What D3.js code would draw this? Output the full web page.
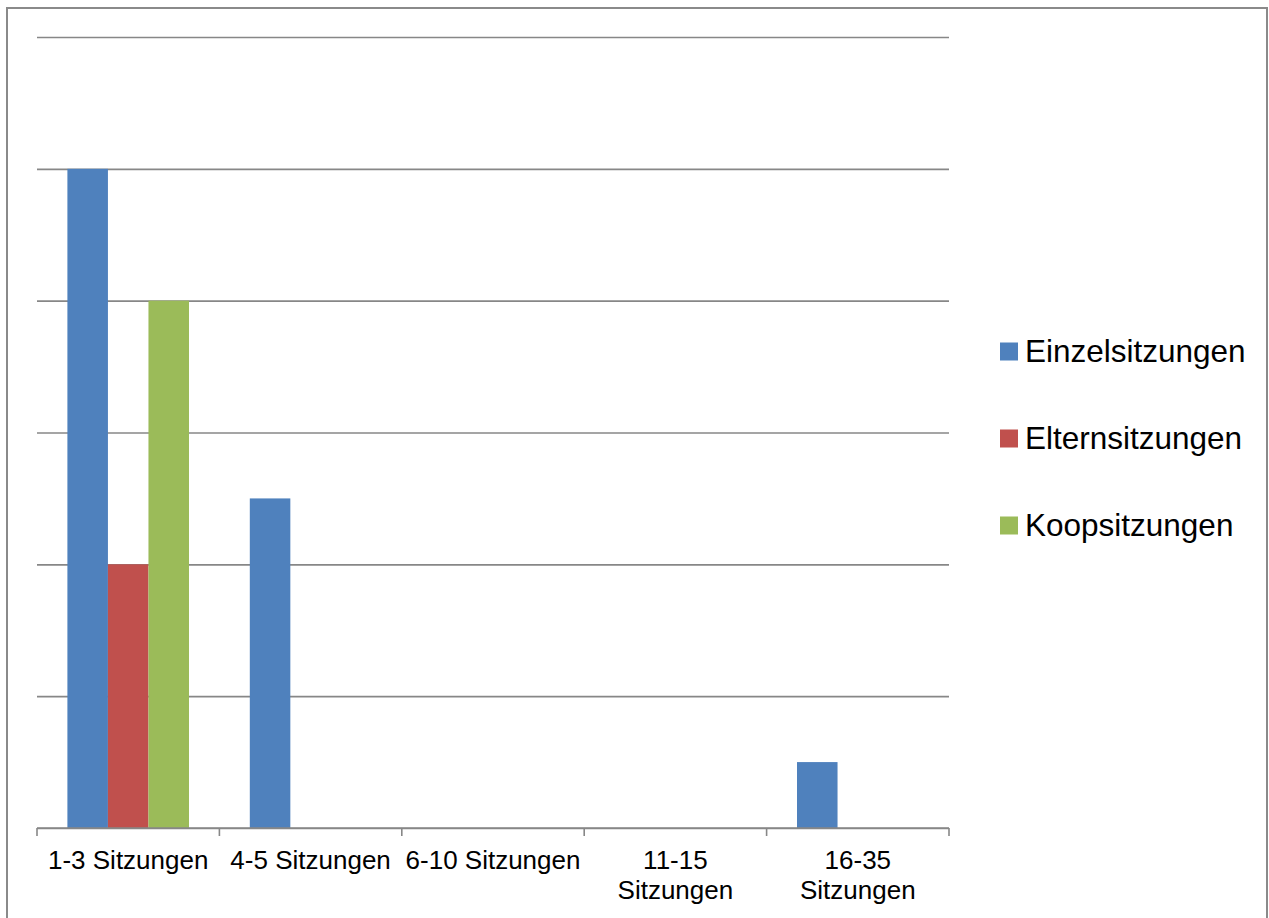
<!DOCTYPE html>
<html>
<head>
<meta charset="utf-8">
<script src="https://cdn.jsdelivr.net/npm/d3@7/dist/d3.min.js"></script>
<style>
  html, body { margin: 0; padding: 0; background: #fff; }
  svg { display: block; font-family: "Liberation Sans", Arial, sans-serif; }
</style>
</head>
<body>
<svg id="chart" width="1269" height="918"></svg>
<script>
// Number of sessions per group, by session type
const categories = ["1-3 Sitzungen", "4-5 Sitzungen", "6-10 Sitzungen", "11-15 Sitzungen", "16-35 Sitzungen"];
const seriesNames = ["Einzelsitzungen", "Elternsitzungen", "Koopsitzungen"];
const einzel = [10, 5, 0, 0, 1];
const eltern = [4, 0, 0, 0, 0];
const koop = [8, 0, 0, 0, 0];
const seriesColors = ["#4F81BD", "#C0504D", "#9BBB59"];
const yTicks = [0, 2, 4, 6, 8, 10, 12];

const seriesValues = [einzel, eltern, koop];
const rows = [];
categories.forEach((c, i) => {
  seriesNames.forEach((s, j) => {
    rows.push({ category: c, series: s, value: seriesValues[j][i], color: seriesColors[j] });
  });
});

const svg = d3.select("#chart");
const plot = { left: 37, right: 949, top: 37, bottom: 828 };

// outer frame
svg.append("rect")
  .attr("x", 7).attr("y", 8)
  .attr("width", 1260).attr("height", 930)
  .attr("fill", "none")
  .attr("stroke", "#8a8a8a")
  .attr("stroke-width", 2);

const x = d3.scaleBand()
  .domain(categories)
  .range([plot.left, plot.right])
  .padding(0);

const xInner = d3.scaleBand()
  .domain(seriesNames)
  .range([0, x.bandwidth()])
  .paddingInner(0)
  .paddingOuter(0.75);

const y = d3.scaleLinear()
  .domain([0, 12])
  .range([plot.bottom, plot.top]);

// horizontal gridlines (no value labels)
const grid = svg.append("g")
  .attr("transform", `translate(${plot.left},0)`)
  .call(d3.axisLeft(y).tickValues(yTicks).tickSize(-(plot.right - plot.left)).tickFormat(""));
grid.select(".domain").remove();
grid.selectAll(".tick line")
  .attr("stroke", "#878787")
  .attr("stroke-width", 1.6);

// bars
svg.append("g")
  .selectAll("rect")
  .data(rows.filter(d => d.value > 0))
  .join("rect")
  .attr("x", d => x(d.category) + xInner(d.series))
  .attr("y", d => y(d.value))
  .attr("width", xInner.bandwidth())
  .attr("height", d => y(0) - y(d.value))
  .attr("fill", d => d.color);

// category axis: baseline with ticks between categories
const axisG = svg.append("g");
axisG.append("line")
  .attr("x1", plot.left).attr("x2", plot.right)
  .attr("y1", y(0)).attr("y2", y(0))
  .attr("stroke", "#878787").attr("stroke-width", 1.6);
const boundaries = categories.map(c => x(c)).concat([x(categories[categories.length - 1]) + x.bandwidth()]);
axisG.selectAll("line.tick")
  .data(boundaries)
  .join("line")
  .attr("class", "tick")
  .attr("x1", d => d).attr("x2", d => d)
  .attr("y1", y(0)).attr("y2", y(0) + 8)
  .attr("stroke", "#878787").attr("stroke-width", 1.6);

// category labels, wrapped to the category width
const labels = axisG.selectAll("text.cat")
  .data(categories)
  .join("text")
  .attr("class", "cat")
  .attr("x", d => x(d) + x.bandwidth() / 2)
  .attr("y", 869)
  .attr("text-anchor", "middle")
  .attr("font-size", 26)
  .attr("fill", "#000");

labels.each(function(d) {
  const t = d3.select(this);
  t.text(d);
  if (this.getComputedTextLength() > x.bandwidth() - 2) {
    const words = d.split(" ");
    t.text(null);
    words.forEach((w, i) => {
      t.append("tspan")
        .attr("x", x(d) + x.bandwidth() / 2)
        .attr("dy", i === 0 ? 0 : 30)
        .text(w);
    });
  }
});

// legend
const legend = svg.append("g");
const legendY = d3.scalePoint().domain(seriesNames).range([351, 525]);
seriesNames.forEach((s, j) => {
  legend.append("rect")
    .attr("x", 1000)
    .attr("y", legendY(s) - 8.5)
    .attr("width", 18).attr("height", 18)
    .attr("fill", seriesColors[j]);
  legend.append("text")
    .attr("x", 1025)
    .attr("y", legendY(s) + 11)
    .attr("font-size", 31.5)
    .attr("fill", "#000")
    .text(s);
});
</script>
</body>
</html>
